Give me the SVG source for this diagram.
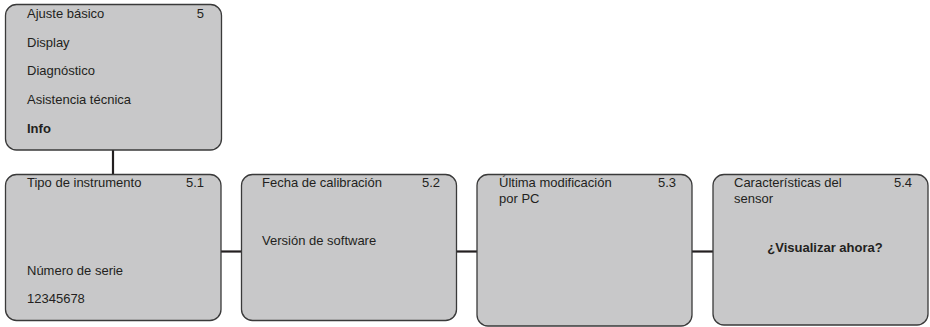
<svg xmlns="http://www.w3.org/2000/svg" width="930" height="327" viewBox="0 0 930 327">
<style>
.box{fill:#c8c8c9;stroke:#3a3a3a;stroke-width:1.3}
.t{font-family:"Liberation Sans",Arial,sans-serif;font-size:13px;fill:#231f20}
.b{font-weight:bold}
.n{text-anchor:end}
.c{fill:none;stroke:#231f20;stroke-width:2.2}
</style>
<rect width="930" height="327" fill="#ffffff"/>
<g id="connectors">
<line class="c" x1="113" y1="150" x2="113" y2="174"/>
<line class="c" x1="221" y1="251.5" x2="241" y2="251.5"/>
<line class="c" x1="456" y1="251.5" x2="477" y2="251.5"/>
<line class="c" x1="692" y1="251.5" x2="713" y2="251.5"/>
</g>
<g id="menu">
<rect class="box" x="5.5" y="4.5" width="216" height="145.5" rx="11"/>
<text class="t" x="27" y="18">Ajuste básico</text>
<text class="t n" x="204" y="18">5</text>
<text class="t" x="27" y="46.5">Display</text>
<text class="t" x="27" y="75">Diagnóstico</text>
<text class="t" x="27" y="104">Asistencia técnica</text>
<text class="t b" x="27" y="132.5">Info</text>
</g>
<g id="n51">
<rect class="box" x="5.5" y="174.5" width="215.5" height="146" rx="11"/>
<text class="t" x="27" y="187">Tipo de instrumento</text>
<text class="t n" x="204" y="187">5.1</text>
<text class="t" x="27" y="275">Número de serie</text>
<text class="t" x="27" y="303">12345678</text>
</g>
<g id="n52">
<rect class="box" x="241.5" y="174.5" width="215" height="146" rx="11"/>
<text class="t" x="262" y="187">Fecha de calibración</text>
<text class="t n" x="440" y="187">5.2</text>
<text class="t" x="262" y="245">Versión de software</text>
</g>
<g id="n53">
<rect class="box" x="477" y="174.5" width="215" height="151.5" rx="11"/>
<text class="t" x="499" y="187">Última modificación</text>
<text class="t n" x="676" y="187">5.3</text>
<text class="t" x="499" y="203">por PC</text>
</g>
<g id="n54">
<rect class="box" x="713" y="174.5" width="215" height="150.5" rx="11"/>
<text class="t" x="734" y="187">Características del</text>
<text class="t n" x="912" y="187">5.4</text>
<text class="t" x="734" y="203">sensor</text>
<text class="t b" x="825" y="252" text-anchor="middle">¿Visualizar ahora?</text>
</g>
</svg>
